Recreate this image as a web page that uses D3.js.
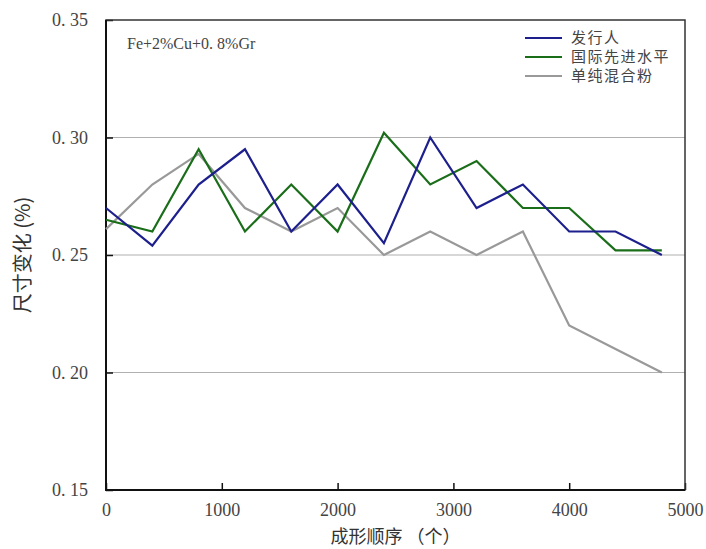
<!DOCTYPE html>
<html>
<head>
<meta charset="utf-8">
<script src="https://cdn.jsdelivr.net/npm/d3@7"></script>
<style>
  body { margin: 0; background: #fff; }
  svg { display: block; }
</style>
</head>
<body>
<svg id="chart"></svg>
<script>
// 数据
const xValues = [0, 400, 800, 1200, 1600, 2000, 2400, 2800, 3200, 3600, 4000, 4400, 4800];
const issuer = [0.270, 0.254, 0.280, 0.295, 0.260, 0.280, 0.255, 0.300, 0.270, 0.280, 0.260, 0.260, 0.250];
const intlLevel = [0.265, 0.260, 0.295, 0.260, 0.280, 0.260, 0.302, 0.280, 0.290, 0.270, 0.270, 0.252, 0.252];
const pureMix = [0.261, 0.280, 0.293, 0.270, 0.260, 0.270, 0.250, 0.260, 0.250, 0.260, 0.220, 0.210, 0.200];
const seriesNames = ['发行人', '国际先进水平', '单纯混合粉'];
const xTicks = [0, 1000, 2000, 3000, 4000, 5000];
const yTicks = [0.15, 0.20, 0.25, 0.30, 0.35];

const margin = {top: 20, right: 21, bottom: 59, left: 106},
  W = 706, H = 549,
  width = W - margin.left - margin.right,
  height = H - margin.top - margin.bottom;

const svg = d3.select('#chart').attr('width', W).attr('height', H);
const chart = svg.append('g')
  .attr('transform', 'translate(' + margin.left + ',' + margin.top + ')');

const x = d3.scaleLinear().domain([0, 5000]).range([0, width]);
const y = d3.scaleLinear().domain([0.15, 0.35]).range([height, 0]);

const serif = '"Liberation Serif", "DejaVu Serif", serif';
const cjk = '"Noto Sans CJK SC", sans-serif';

// 网格线
chart.append('g')
  .selectAll('line')
  .data([0.20, 0.25, 0.30])
  .join('line')
    .attr('x1', 0).attr('x2', width)
    .attr('y1', d => y(d)).attr('y2', d => y(d))
    .attr('stroke', '#b0b0b0')
    .attr('stroke-width', 1.2);

// 坐标轴
const fmt = d => d.toFixed(2).replace('.', '. ');
const yAxis = d3.axisLeft(y).tickValues(yTicks).tickSize(-7).tickPadding(18).tickFormat(fmt);
const xAxis = d3.axisBottom(x).tickValues(xTicks).tickSize(-7).tickPadding(13).tickFormat(d3.format('d'));

const gy = chart.append('g').call(yAxis);
const gx = chart.append('g').attr('transform', 'translate(0,' + height + ')').call(xAxis);
[gx, gy].forEach(g => {
  g.select('.domain').remove();
  g.selectAll('.tick line').attr('stroke', '#111').attr('stroke-width', 1.5);
  g.selectAll('.tick text')
    .attr('font-family', serif)
    .attr('font-size', 18)
    .attr('fill', '#444');
});

// 边框
chart.append('rect')
  .attr('x', 0).attr('y', 0).attr('width', width).attr('height', height)
  .attr('fill', 'none').attr('stroke', '#333').attr('stroke-width', 1.5);
chart.append('path')
  .attr('d', 'M0,0V' + height + 'H' + width)
  .attr('fill', 'none').attr('stroke', '#111').attr('stroke-width', 2);

// 折线
const colors = ['#1c1f8c', '#1a6e1a', '#999999'];
const allSeries = [issuer, intlLevel, pureMix];
const line = d3.line()
  .x((d, i) => x(xValues[i]))
  .y(d => y(d));

chart.selectAll('.series')
  .data(allSeries.slice().reverse())
  .join('path')
    .attr('class', 'series')
    .attr('d', line)
    .attr('fill', 'none')
    .attr('stroke', (d, i) => colors[2 - i])
    .attr('stroke-linejoin', 'miter')
    .attr('stroke-width', 2.2);

// 图例
const legend = chart.append('g').attr('transform', 'translate(419,18)');
seriesNames.forEach((name, i) => {
  const row = legend.append('g').attr('transform', 'translate(0,' + (i * 19) + ')');
  row.append('line')
    .attr('x1', 0).attr('x2', 37)
    .attr('stroke', colors[i]).attr('stroke-width', 2.2);
  row.append('text')
    .attr('x', 46).attr('dy', '0.35em')
    .attr('font-family', cjk).attr('font-size', 15)
    .attr('letter-spacing', 1.5)
    .attr('fill', '#444')
    .text(name);
});

// 注释
chart.append('text')
  .attr('x', 21).attr('y', 29)
  .attr('font-family', serif).attr('font-size', 16)
  .attr('fill', '#444')
  .text('Fe+2%Cu+0. 8%Gr');

// 轴标题
svg.append('text')
  .attr('x', margin.left + width / 2).attr('y', 543)
  .attr('text-anchor', 'middle')
  .attr('font-family', cjk).attr('font-size', 18)
  .attr('fill', '#333')
  .text('成形顺序 （个）');

svg.append('text')
  .attr('transform', 'translate(30,' + (margin.top + height / 2) + ') rotate(-90)')
  .attr('text-anchor', 'middle')
  .attr('font-family', cjk).attr('font-size', 20)
  .attr('fill', '#333')
  .text('尺寸变化 (%)');
</script>
</body>
</html>
